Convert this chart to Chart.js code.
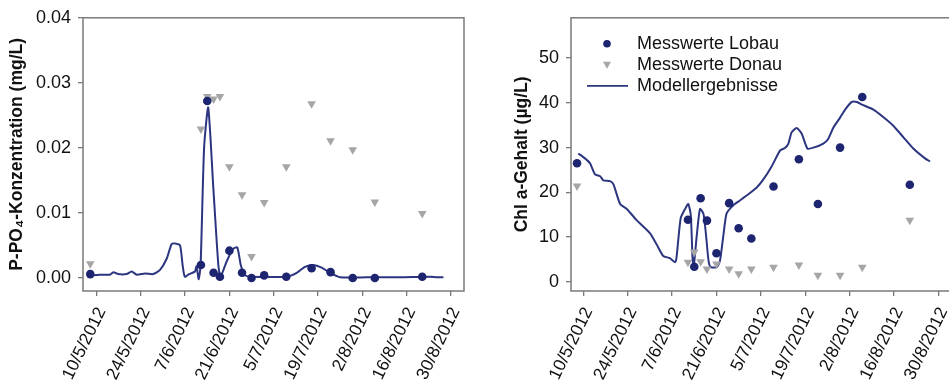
<!DOCTYPE html>
<html>
<head>
<meta charset="utf-8">
<script src="https://cdn.jsdelivr.net/npm/chart.js@4.4.1/dist/chart.umd.min.js"></script>
<style>
  html, body { margin: 0; padding: 0; background: #fff; overflow: hidden; }
  #wrap { position: relative; width: 949px; height: 381px; overflow: hidden; }
  #c1 { position: absolute; left: 0; top: 0; }
  #c2 { position: absolute; left: 470px; top: 0; }
</style>
</head>
<body>
<div id="wrap">
  <canvas id="c1" width="470" height="381"></canvas>
  <canvas id="c2" width="490" height="381"></canvas>
</div>
<script>
// Tage ab 10/5/2012
var xTickDays = [0, 14, 28, 42, 56, 70, 84, 98, 112];
var xTickLabels = ['10/5/2012', '24/5/2012', '7/6/2012', '21/6/2012', '5/7/2012', '19/7/2012', '2/8/2012', '16/8/2012', '30/8/2012'];

// Probenahmetage
var sampleDays = [-2, 33, 35, 37, 39, 42, 46, 49, 53, 60, 68, 74, 81, 88, 103];

// P-PO4 (mg/L)
var pLobau = [0.0006, 0.0020, 0.0272, 0.0008, 0.0002, 0.0042, 0.0008, 0.0000, 0.0004, 0.0002, 0.0015, 0.0009, 0.0000, 0.0000, 0.0002];
var pDonau = [0.0022, 0.0229, 0.0279, 0.0275, 0.0279, 0.0171, 0.0128, 0.0033, 0.0116, 0.0171, 0.0268, 0.0211, 0.0197, 0.0117, 0.0099];
var pModelDays = [-2.1, 1.1, 4.2, 5.3, 6.8, 9.5, 11.1, 12.7, 15.3, 17.9, 20.0, 22.2, 23.7, 24.8, 26.4, 27.2, 27.9, 29.3, 31.1, 31.6, 32.3, 32.9, 34.0, 35.3, 36.9, 38.5, 39.2, 41.1, 43.2, 44.5, 45.6, 46.9, 49.6, 60.1, 63.3, 65.9, 68.5, 71.2, 73.8, 77.0, 85.4, 96.0, 105.5, 107.6, 109.7];
var pModel = [0.0004, 0.0005, 0.0005, 0.0009, 0.0006, 0.0006, 0.0010, 0.0005, 0.0007, 0.0006, 0.0012, 0.0030, 0.0052, 0.0053, 0.0050, 0.0020, 0.0002, 0.0006, 0.0010, 0.0018, -0.0002, 0.0020, 0.0200, 0.0262, 0.0140, 0.0020, 0.0002, 0.0025, 0.0045, 0.0047, 0.0020, 0.0004, 0.0002, 0.0002, 0.0008, 0.0017, 0.0020, 0.0016, 0.0008, 0.0001, 0.0001, 0.0001, 0.0002, 0.0001, 0.0001];
var pTicks = [0, 0.01, 0.02, 0.03, 0.04];
var pTickLabels = ['0.00', '0.01', '0.02', '0.03', '0.04'];

// Chl a (µg/L)
var chlLobau = [26.5, 13.9, 3.4, 18.7, 13.7, 6.4, 17.6, 12.0, 9.7, 21.3, 27.4, 17.4, 30.0, 41.3, 21.7];
var chlDonau = [21.4, 4.4, 6.7, 4.5, 2.9, 4.0, 2.9, 1.8, 2.9, 3.3, 3.8, 1.5, 1.5, 3.3, 13.8];
var chlModelDays = [-1.6, 0.5, 2.1, 3.7, 5.3, 6.3, 8.4, 9.5, 11.6, 13.7, 16.8, 21.0, 23.1, 25.2, 27.3, 28.9, 29.4, 30.7, 32.1, 33.1, 33.9, 34.5, 34.9, 35.8, 36.8, 37.9, 38.7, 39.5, 40.2, 42.1, 43.1, 44.2, 45.2, 47.3, 49.4, 51.5, 54.7, 56.8, 59.4, 62.1, 63.6, 64.7, 65.7, 67.3, 68.9, 70.7, 72.6, 75.7, 77.3, 78.9, 81.0, 82.6, 84.7, 86.3, 87.9, 91.5, 94.7, 97.8, 101.0, 104.1, 107.8, 109.4];
var chlModel = [28.7, 27.6, 26.5, 24.0, 23.6, 22.7, 22.5, 21.8, 17.4, 16.3, 13.8, 10.9, 8.4, 5.8, 5.3, 4.4, 5.5, 14.2, 16.3, 17.4, 14.9, 4.7, 4.0, 10.5, 16.3, 15.2, 10.5, 4.7, 3.3, 3.3, 4.7, 10.5, 15.3, 17.1, 18.2, 19.3, 21.1, 22.9, 25.8, 29.4, 29.9, 30.9, 33.4, 34.4, 33.1, 29.8, 30.0, 30.9, 32.0, 34.5, 36.7, 38.5, 40.2, 40.2, 39.6, 38.5, 36.8, 34.9, 32.3, 29.8, 27.6, 26.9];
var chlTicks = [0, 10, 20, 30, 40, 50];

var legendLabels = ['Messwerte Lobau', 'Messwerte Donau', 'Modellergebnisse'];

var navy = '#1d2470';
var lineCol = '#2c357f';
var grey = '#a6a6a6';
var frameCol = '#7a7a7a';
var textCol = '#111';
var FONT = "'Liberation Sans', Arial, sans-serif";

function pts(xs, ys) {
  return xs.map(function (x, i) { return { x: x, y: ys[i] }; });
}

var framePlugin = {
  id: 'frame',
  beforeDatasetsDraw: function (chart) {
    var a = chart.chartArea, ctx = chart.ctx;
    ctx.save();
    ctx.strokeStyle = frameCol;
    ctx.lineWidth = 1.5;
    ctx.strokeRect(a.left, a.top, a.right - a.left, a.bottom - a.top);
    ctx.restore();
  }
};

// Legende innerhalb der Grafik (rechts)
var legendPlugin = {
  id: 'innerLegend',
  afterDraw: function (chart) {
    var a = chart.chartArea, ctx = chart.ctx;
    var mx = a.left + 36, tx = a.left + 66;
    var rows = [a.top + 26, a.top + 47, a.top + 68];
    ctx.save();
    ctx.fillStyle = navy;
    ctx.beginPath();
    ctx.arc(mx, rows[0], 3.8, 0, Math.PI * 2);
    ctx.fill();
    ctx.fillStyle = grey;
    ctx.beginPath();
    ctx.moveTo(mx - 4, rows[1] - 3);
    ctx.lineTo(mx + 4, rows[1] - 3);
    ctx.lineTo(mx, rows[1] + 4);
    ctx.closePath();
    ctx.fill();
    ctx.strokeStyle = lineCol;
    ctx.lineWidth = 1.8;
    ctx.beginPath();
    ctx.moveTo(a.left + 16, rows[2]);
    ctx.lineTo(a.left + 57, rows[2]);
    ctx.stroke();
    ctx.fillStyle = textCol;
    ctx.font = '18px ' + FONT;
    ctx.textBaseline = 'middle';
    for (var i = 0; i < legendLabels.length; i++) {
      ctx.fillText(legendLabels[i], tx, rows[i]);
    }
    ctx.restore();
  }
};

function makeChart(id, opts) {
  return new Chart(document.getElementById(id), {
    type: 'scatter',
    data: {
      datasets: [{
        label: legendLabels[0],
        data: pts(sampleDays, opts.lobau),
        backgroundColor: navy,
        borderWidth: 0,
        pointRadius: 4.3,
        order: 1
      }, {
        label: legendLabels[1],
        data: pts(sampleDays, opts.donau),
        backgroundColor: grey,
        borderWidth: 0,
        pointStyle: 'triangle',
        rotation: 180,
        pointRadius: 5,
        order: 2
      }, {
        label: legendLabels[2],
        type: 'line',
        data: pts(opts.modelDays, opts.model),
        borderColor: lineCol,
        borderWidth: 2,
        pointRadius: 0,
        tension: 0.2,
        fill: false,
        order: 3
      }]
    },
    options: {
      responsive: false,
      animation: false,
      devicePixelRatio: 1,
      layout: { padding: { top: opts.top, right: opts.right, left: 0, bottom: 0 } },
      plugins: { legend: { display: false }, tooltip: { enabled: false } },
      scales: {
        x: {
          type: 'linear',
          min: opts.xmin,
          max: opts.xmax,
          afterBuildTicks: function (scale) {
            scale.ticks = xTickDays.map(function (v) { return { value: v }; });
          },
          afterFit: function (scale) {
            scale.height = 90;
            scale.paddingLeft = 0;
            scale.paddingRight = 0;
          },
          grid: { drawOnChartArea: false, drawTicks: true, tickLength: 5, color: frameCol, lineWidth: 1.3 },
          border: { display: false },
          ticks: {
            autoSkip: false,
            minRotation: 64,
            maxRotation: 64,
            padding: 8,
            labelOffset: 5,
            color: textCol,
            font: { family: FONT, size: 17.5 },
            callback: function (v, i) { return xTickLabels[i]; }
          }
        },
        y: {
          min: opts.ymin,
          max: opts.ymax,
          afterBuildTicks: function (scale) {
            scale.ticks = opts.yTicks.map(function (v) { return { value: v }; });
          },
          afterFit: function (scale) { scale.width = opts.yWidth; },
          grid: { drawOnChartArea: false, drawTicks: true, tickLength: 5, color: frameCol, lineWidth: 1.3 },
          border: { display: false },
          title: {
            display: true,
            text: opts.title,
            color: textCol,
            font: { family: FONT, size: 17.5, weight: 'bold' },
            padding: { top: opts.titlePad, bottom: 0 }
          },
          ticks: {
            padding: 7,
            color: textCol,
            font: { family: FONT, size: 18 },
            callback: opts.yLabel
          }
        }
      }
    },
    plugins: opts.plugins
  });
}

makeChart('c1', {
  lobau: pLobau, donau: pDonau, modelDays: pModelDays, model: pModel,
  xmin: -4.3, xmax: 116.2, ymin: -0.002, ymax: 0.04, yTicks: pTicks,
  yLabel: function (v, i) { return pTickLabels[i]; },
  title: 'P-PO₄-Konzentration (mg/L)', titlePad: 7,
  top: 12, right: 6, yWidth: 83,
  plugins: [framePlugin]
});

makeChart('c2', {
  lobau: chlLobau, donau: chlDonau, modelDays: chlModelDays, model: chlModel,
  xmin: -3.9, xmax: 116, ymin: -2.03, ymax: 59, yTicks: chlTicks,
  yLabel: function (v) { return String(v); },
  title: 'Chl a-Gehalt (µg/L)', titlePad: 42,
  top: 11, right: 9, yWidth: 101,
  plugins: [framePlugin, legendPlugin]
});
</script>
</body>
</html>
